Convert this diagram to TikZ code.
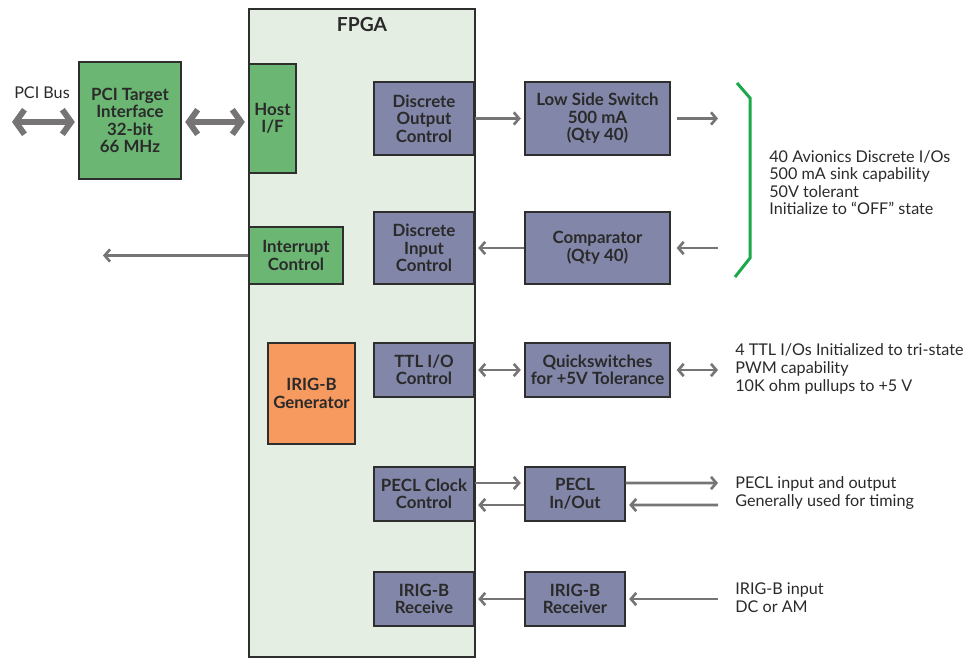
\documentclass[tikz,border=0pt]{standalone}
\usepackage{fontspec}
\setmainfont{Lato}
\usetikzlibrary{arrows.meta}

\definecolor{fpgabg}{HTML}{E4EEE2}
\definecolor{pcigreen}{HTML}{6BB673}
\definecolor{slate}{HTML}{8286A8}
\definecolor{igorange}{HTML}{F69A5F}
\definecolor{arrgray}{HTML}{767474}
\definecolor{edgegray}{HTML}{2E2E2E}
\definecolor{txtgray}{HTML}{2A2A2A}
\definecolor{brkgreen}{HTML}{1BA84A}

\tikzset{
  blk/.style={draw=edgegray, line width=0.8pt, align=center, inner sep=0pt,
    text=txtgray, font=\bfseries\fontsize{9.6}{10}\selectfont},
  ctl/.style={blk, fill=slate},
  grn/.style={blk, fill=pcigreen},
  note/.style={anchor=west, align=left, inner sep=0pt, text=txtgray,
    font=\fontsize{9.2}{10}\selectfont},
  arr/.style={draw=arrgray, line width=1.5pt, -{Straight Barb[length=3pt,width=7pt]}},
  dblarr/.style={draw=arrgray, line width=1.5pt,
    {Straight Barb[length=3pt,width=7pt]}-{Straight Barb[length=3pt,width=7pt]}},
  fatarr/.style={draw=arrgray, line width=3.4pt,
    {Straight Barb[length=5pt,width=14pt]}-{Straight Barb[length=5pt,width=14pt]}}
}

\begin{document}
\begin{tikzpicture}[x=0.02cm,y=-0.02cm]
\useasboundingbox (0,0) rectangle (979,658);

% FPGA container
\node[draw=edgegray, line width=0.8pt, fill=fpgabg, minimum width=4.52cm, minimum height=12.96cm] (fpga) at (362,333) {};
\node[text=txtgray, font=\bfseries\fontsize{11}{12}\selectfont] (fpgalbl) at (362,25) {FPGA};

% host side
\node[grn, minimum width=2.04cm, minimum height=2.34cm] (pci) at (130,120.5) {PCI Target\\Interface\\32-bit\\66 MHz};
\node[grn, minimum width=0.94cm, minimum height=2.18cm] (host) at (272.5,118.5) {Host\\I/F};
\node[grn, minimum width=1.88cm, minimum height=1.14cm] (intr) at (296,255.5) {Interrupt\\Control};
\node[blk, fill=igorange, minimum width=1.74cm, minimum height=2.02cm] (gen) at (311.5,393.5) {IRIG-B\\Generator};
\node[text=txtgray, font=\fontsize{9.2}{10}\selectfont] (busl) at (42,93) {PCI Bus};

% control blocks
\node[ctl, minimum width=2cm, minimum height=1.46cm] (dout) at (424,118.5) {Discrete\\Output\\Control};
\node[ctl, minimum width=2cm, minimum height=1.44cm] (din) at (424,248) {Discrete\\Input\\Control};
\node[ctl, minimum width=2cm, minimum height=1.08cm] (ttl) at (424,370) {TTL I/O\\Control};
\node[ctl, minimum width=2cm, minimum height=1.08cm] (pclk) at (424,494) {PECL Clock\\Control};
\node[ctl, minimum width=2cm, minimum height=1.08cm] (irx) at (424,599) {IRIG-B\\Receive};

% interface blocks
\node[ctl, minimum width=2.9cm, minimum height=1.46cm] (lss) at (597.5,118.5) {Low Side Switch\\500 mA\\(Qty 40)};
\node[ctl, minimum width=2.9cm, minimum height=1.44cm] (comp) at (597.5,248) {Comparator\\(Qty 40)};
\node[ctl, minimum width=2.9cm, minimum height=1.08cm] (qs) at (597.5,370) {Quickswitches\\for +5V Tolerance};
\node[ctl, minimum width=2cm, minimum height=1.08cm] (pecl) at (575,494) {PECL\\In/Out};
\node[ctl, minimum width=2cm, minimum height=1.08cm] (irr) at (575,599) {IRIG-B\\Receiver};

% free ends
\coordinate (bus) at (12,122);
\coordinate (irq) at (103,255.5);
\coordinate (o1) at (718,118.5);
\coordinate (o2) at (718,248);
\coordinate (o3) at (718,370);
\coordinate (o4) at (718,483);
\coordinate (o5) at (718,505);
\coordinate (o6) at (718,599);

% connectors
\draw[fatarr, shorten >=2pt] (bus) -- (pci.west |- bus);
\draw[fatarr, shorten <=2pt, shorten >=2pt] (pci.east |- bus) -- (host.west |- bus);
\draw[arr] (intr.west) -- (irq);

\draw[arr, shorten >=2pt] (dout.east) -- (lss.west);
\draw[arr, shorten <=3.4pt] (lss.east) -- (o1);
\draw[arr, shorten >=2pt] (comp.west) -- (din.east);
\draw[arr, shorten >=3.4pt] (o2) -- (comp.east);
\draw[dblarr, shorten <=2pt, shorten >=2pt] (ttl.east) -- (qs.west);
\draw[dblarr, shorten <=3.4pt] (qs.east) -- (o3);
\draw[arr, shorten >=2pt] ([yshift=0.22cm]pclk.east) -- ([yshift=0.22cm]pecl.west);
\draw[arr, shorten >=2pt] ([yshift=-0.22cm]pecl.west) -- ([yshift=-0.22cm]pclk.east);
\draw[arr] ([yshift=0.22cm]pecl.east) -- (o4);
\draw[arr, shorten >=2pt] (o5) -- ([yshift=-0.22cm]pecl.east);
\draw[arr, shorten >=2pt] (irr.west) -- (irx.east);
\draw[arr, shorten >=2pt] (o6) -- (irr.east);

% discrete I/O bracket
\draw[brkgreen, line width=1.7pt] (737,83) -- (750,98) -- (750,258) -- (735,277);

% notes
\node[note] (n1) at (769,182.5) {40 Avionics Discrete I/Os\\500 mA sink capability\\50V tolerant\\Initialize to “OFF” state};
\node[note] (n2) at (735,369) {4 TTL I/Os Initialized to tri-state\\PWM capability\\10K ohm pullups to +5 V};
\node[note] (n3) at (735,493) {PECL input and output\\Generally used for timing};
\node[note] (n4) at (735,597.5) {IRIG-B input\\DC or AM};
\end{tikzpicture}
\end{document}
